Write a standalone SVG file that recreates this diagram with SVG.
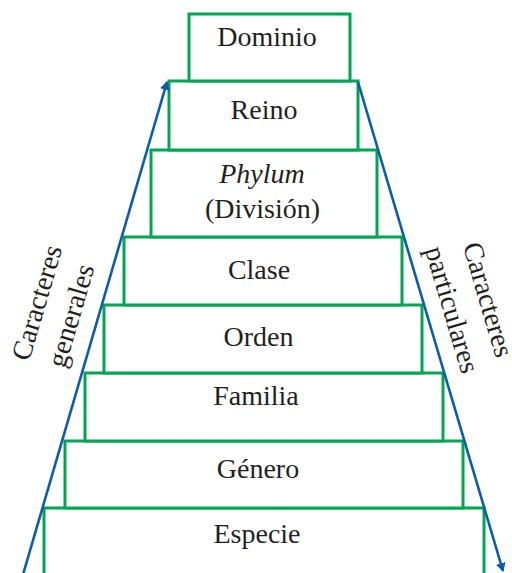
<svg xmlns="http://www.w3.org/2000/svg" width="512" height="573" viewBox="0 0 512 573">
<style>
.box{fill:#fff;stroke:#00a651;stroke-width:3}
.t{font-family:"Liberation Serif","Times New Roman",serif;font-size:28px;fill:#231f20;text-anchor:middle}
.arr{stroke:#0b5cad;stroke-width:2.6;fill:none}
</style>
<defs>
<marker id="ah" markerWidth="10" markerHeight="10" refX="8" refY="5" orient="auto" markerUnits="userSpaceOnUse">
<path d="M0,0 L9,5 L0,10 Z" fill="#0b5cad"/>
</marker>
</defs>
<rect width="512" height="573" fill="#fff"/>
<g id="especie"><rect class="box" x="44" y="508" width="440" height="80"/><text class="t" x="257" y="543">Especie</text></g>
<g id="genero"><rect class="box" x="65" y="441" width="398" height="67"/><text class="t" x="258" y="478">Género</text></g>
<g id="familia"><rect class="box" x="85" y="373" width="358" height="68"/><text class="t" x="256" y="405">Familia</text></g>
<g id="orden"><rect class="box" x="104" y="305" width="318" height="68"/><text class="t" x="258.5" y="346">Orden</text></g>
<g id="clase"><rect class="box" x="124" y="237" width="278" height="68"/><text class="t" x="259" y="279">Clase</text></g>
<g id="phylum"><rect class="box" x="151" y="150" width="226" height="87"/><text class="t" x="262" y="183" font-style="italic">Phylum</text><text class="t" x="262.5" y="218">(División)</text></g>
<g id="reino"><rect class="box" x="169" y="81" width="189" height="69"/><text class="t" x="264" y="119">Reino</text></g>
<g id="dominio"><rect class="box" x="189" y="14" width="161" height="67"/><text class="t" x="267" y="46">Dominio</text></g>
<g id="connectors">
<line class="arr" x1="22" y1="578" x2="167" y2="82" marker-end="url(#ah)"/>
<line class="arr" x1="358" y1="82" x2="503" y2="571" marker-end="url(#ah)"/>
</g>
<g id="labels">
<text class="t" transform="translate(38,303) rotate(-73.6)" y="8">Caracteres</text>
<text class="t" transform="translate(72,316) rotate(-73.6)" y="8">generales</text>
<text class="t" transform="translate(487,300) rotate(73.6)" y="8">Caracteres</text>
<text class="t" transform="translate(451,310) rotate(73.6)" y="8">particulares</text>
</g>
</svg>
